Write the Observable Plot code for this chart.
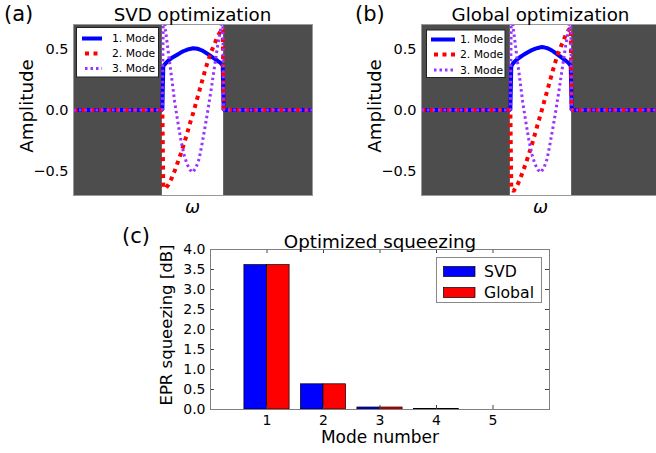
<!DOCTYPE html>
<html><head><meta charset="utf-8">
<script src="https://cdn.jsdelivr.net/npm/d3@7"></script>
<script src="https://cdn.jsdelivr.net/npm/@observablehq/plot@0.6"></script>
<style>
body{margin:0;background:#fff;}
#root{position:relative;width:656px;height:453px;overflow:hidden;font-family:"DejaVu Sans",sans-serif;background:#fff;}
</style></head><body><div id="root"></div>
<script>
// ---------- data ----------
const omega = [-3.9, -1.0, -0.97, -0.9, -0.8, -0.7, -0.6, -0.5, -0.4, -0.3, -0.2, -0.1, 0.0, 0.1, 0.2, 0.3, 0.4, 0.5, 0.6, 0.7, 0.8, 0.9, 0.97, 1.0, 3.9];
const svdMode1 = [0, 0, 0.36, 0.38, 0.405, 0.425, 0.44, 0.455, 0.47, 0.483, 0.493, 0.50, 0.505, 0.503, 0.497, 0.487, 0.472, 0.455, 0.438, 0.42, 0.403, 0.385, 0.365, 0, 0];
const svdMode2 = [0, 0, -0.63, -0.645, -0.61, -0.56, -0.50, -0.43, -0.36, -0.28, -0.20, -0.11, -0.03, 0.06, 0.15, 0.24, 0.33, 0.41, 0.48, 0.54, 0.60, 0.645, 0.665, 0, 0];
const svdMode3 = [0, 0, 0.80, 0.66, 0.46, 0.27, 0.07, -0.09, -0.24, -0.36, -0.44, -0.49, -0.51, -0.47, -0.40, -0.27, -0.13, 0.02, 0.18, 0.35, 0.52, 0.66, 0.80, 0, 0];
const globalMode1 = [0, 0, 0.36, 0.385, 0.41, 0.43, 0.447, 0.462, 0.477, 0.49, 0.50, 0.508, 0.515, 0.513, 0.506, 0.495, 0.48, 0.462, 0.443, 0.424, 0.405, 0.385, 0.362, 0, 0];
const globalMode2 = [0, 0, -0.645, -0.665, -0.63, -0.575, -0.51, -0.44, -0.365, -0.285, -0.20, -0.11, -0.025, 0.065, 0.155, 0.245, 0.335, 0.42, 0.49, 0.55, 0.61, 0.655, 0.67, 0, 0];
const globalMode3 = [0, 0, 0.80, 0.66, 0.46, 0.27, 0.07, -0.09, -0.24, -0.36, -0.44, -0.49, -0.51, -0.47, -0.40, -0.27, -0.13, 0.02, 0.18, 0.35, 0.52, 0.66, 0.80, 0, 0];
const omegaDomain = [-3.9, 3.9];
const pulseWindow = [-1, 1];
const ampDomain = [-0.7, 0.7];
const ampTicks = [-0.5, 0.0, 0.5];
const modeLabels = ["1. Mode", "2. Mode", "3. Mode"];

const modes = [1, 2, 3, 4, 5];
const svdSqueezing = [3.61, 0.63, 0.05, 0.01, 0.0];
const globalSqueezing = [3.61, 0.63, 0.05, 0.01, 0.0];
const modeDomain = [0, 6];
const squeezeDomain = [0, 4];
const squeezeTicks = [0, 0.5, 1.0, 1.5, 2.0, 2.5, 3.0, 3.5, 4.0];
const barLabels = ["SVD", "Global"];

// ---------- styles ----------
const FONT = "DejaVu Sans";
const BLUE = "#0000ff", RED = "#ff0000", PURPLE = "#9933ff", DARK = "#4d4d4d";
const lineStyles = [
  {stroke: BLUE, strokeWidth: 4, dash: null},
  {stroke: RED, strokeWidth: 4, dash: "4,4.5"},
  {stroke: PURPLE, strokeWidth: 3, dash: "2.5,3"}
];
const fmtMinus = d => d.toFixed(1).replace("-", "\u2212");

const root = document.getElementById("root");
function place(el, left, top) {
  el.style.position = "absolute";
  el.style.left = left + "px";
  el.style.top = top + "px";
  root.appendChild(el);
}

function modePlot(series, width, ml, mr) {
  const marks = [
    Plot.frame({fill: DARK}),
    Plot.rect([pulseWindow], {x1: d => d[0], x2: d => d[1], fill: "white"})
  ];
  series.forEach((vals, k) => {
    const rows = omega.map((w, i) => ({w, v: vals[i]}));
    const st = lineStyles[k];
    marks.push(Plot.line(rows, {x: "w", y: "v", stroke: st.stroke, strokeWidth: st.strokeWidth,
      strokeDasharray: st.dash, strokeLinejoin: "miter", strokeLinecap: "butt", clip: true}));
  });
  marks.push(Plot.frame({stroke: "#999", strokeWidth: 1}));
  return Plot.plot({
    width, height: 225,
    marginLeft: ml, marginRight: mr, marginTop: 24, marginBottom: 30,
    x: {domain: omegaDomain, axis: null},
    y: {domain: ampDomain, ticks: ampTicks, tickFormat: fmtMinus, tickSize: 0, tickPadding: 5, label: null},
    style: {fontFamily: FONT, fontSize: "14.5px", color: "#000", background: "transparent", overflow: "visible"},
    marks
  });
}

place(modePlot([svdMode1, svdMode2, svdMode3], 328, 73, 16), 0, 0);
place(modePlot([globalMode1, globalMode2, globalMode3], 335, 91, 5), 330, 0);

// ---------- bar chart ----------
const bars = modes.map((m, i) => ({mode: m, svd: svdSqueezing[i], global: globalSqueezing[i]}));
const barW = 0.4;
const plotW = 656 - 210 - 107, plotH = 228 - 24 - 44;
const barPlot = Plot.plot({
  width: 656, height: 228,
  marginLeft: 210, marginRight: 107, marginTop: 24, marginBottom: 44,
  x: {domain: modeDomain, ticks: modes, tickFormat: d => String(d), tickSize: 0, tickPadding: 6, label: null},
  y: {domain: squeezeDomain, ticks: squeezeTicks, tickFormat: d => d.toFixed(1), tickSize: 0, tickPadding: 5, label: null},
  style: {fontFamily: FONT, fontSize: "14px", color: "#000", background: "transparent", overflow: "visible"},
  marks: [
    Plot.rectY(bars, {x1: d => d.mode - barW, x2: d => d.mode, y: "svd", fill: BLUE, stroke: "#000", strokeWidth: 0.7}),
    Plot.rectY(bars, {x1: d => d.mode, x2: d => d.mode + barW, y: "global", fill: RED, stroke: "#000", strokeWidth: 0.7}),
    Plot.tickX(modes, {x: d => d, insetTop: plotH - 4, stroke: "#444"}),
    Plot.tickX(modes, {x: d => d, insetBottom: plotH - 4, stroke: "#444"}),
    Plot.tickY(squeezeTicks, {y: d => d, insetRight: plotW - 4, stroke: "#444"}),
    Plot.tickY(squeezeTicks, {y: d => d, insetLeft: plotW - 4, stroke: "#444"}),
    Plot.frame({stroke: "#808080", strokeWidth: 1})
  ]
});
place(barPlot, 0, 225);

// ---------- overlay: titles, labels, legends ----------
const NS = "http://www.w3.org/2000/svg";
const ov = document.createElementNS(NS, "svg");
ov.setAttribute("width", 656); ov.setAttribute("height", 453);
ov.style.fontFamily = FONT;
place(ov, 0, 0);
function txt(s, x, y, size, opts = {}) {
  const t = document.createElementNS(NS, "text");
  t.textContent = s;
  t.setAttribute("x", x); t.setAttribute("y", y);
  t.setAttribute("font-size", size);
  t.setAttribute("text-anchor", opts.anchor || "start");
  if (opts.italic) t.setAttribute("font-style", "italic");
  if (opts.rotate) t.setAttribute("transform", `rotate(-90 ${x} ${y})`);
  if (opts.baseline) t.setAttribute("dominant-baseline", opts.baseline);
  ov.appendChild(t);
}
function el(name, attrs) {
  const e = document.createElementNS(NS, name);
  for (const k in attrs) e.setAttribute(k, attrs[k]);
  ov.appendChild(e);
}
// panel (a)
txt("(a)", 4, 21, 21);
txt("SVD optimization", 192.5, 20.5, 18.3, {anchor: "middle"});
txt("Amplitude", 33, 106, 18.3, {anchor: "middle", rotate: true});
txt("\u03c9", 192.5, 213, 18, {anchor: "middle", italic: true});
// panel (b)
txt("(b)", 355, 21, 21);
txt("Global optimization", 540.5, 20.5, 18.3, {anchor: "middle"});
txt("Amplitude", 381, 106, 18.3, {anchor: "middle", rotate: true});
txt("\u03c9", 540.5, 213, 18, {anchor: "middle", italic: true});
// legends (a),(b)
function modeLegend(bx, by, bw, bh, lx1, lx2, tx, ys) {
  el("rect", {x: bx, y: by, width: bw, height: bh, fill: "white", stroke: "#222", "stroke-width": 1});
  modeLabels.forEach((lab, k) => {
    const st = lineStyles[k];
    const a = {x1: lx1, x2: lx2, y1: ys[k], y2: ys[k], stroke: st.stroke, "stroke-width": st.strokeWidth};
    if (st.dash) a["stroke-dasharray"] = st.dash;
    if (k > 0) { a.x1 = lx1 + 3; }
    el("line", a);
    txt(lab, tx, ys[k], 10.8, {baseline: "central"});
  });
}
modeLegend(76.5, 27.5, 82, 49.5, 82, 102, 112, [38.5, 53.5, 68.5]);
modeLegend(426.5, 30, 78.5, 47.5, 431, 455, 460, [39.5, 54.5, 70]);
// panel (c)
txt("(c)", 122, 243, 21);
txt("Optimized squeezing", 380, 247.5, 18.3, {anchor: "middle"});
txt("EPR squeezing [dB]", 172, 325, 16.5, {anchor: "middle", rotate: true});
txt("Mode number", 380, 443, 17, {anchor: "middle"});
el("rect", {x: 436.5, y: 257.5, width: 105, height: 45, fill: "white", stroke: "#888", "stroke-width": 1});
[BLUE, RED].forEach((c, k) => {
  el("rect", {x: 443.5, y: 266.5 + 21 * k, width: 31.5, height: 10, fill: c, stroke: "#000", "stroke-width": 0.7});
  txt(barLabels[k], 484, 271.5 + 21 * k, 15.7, {baseline: "central"});
});
</script></body></html>
